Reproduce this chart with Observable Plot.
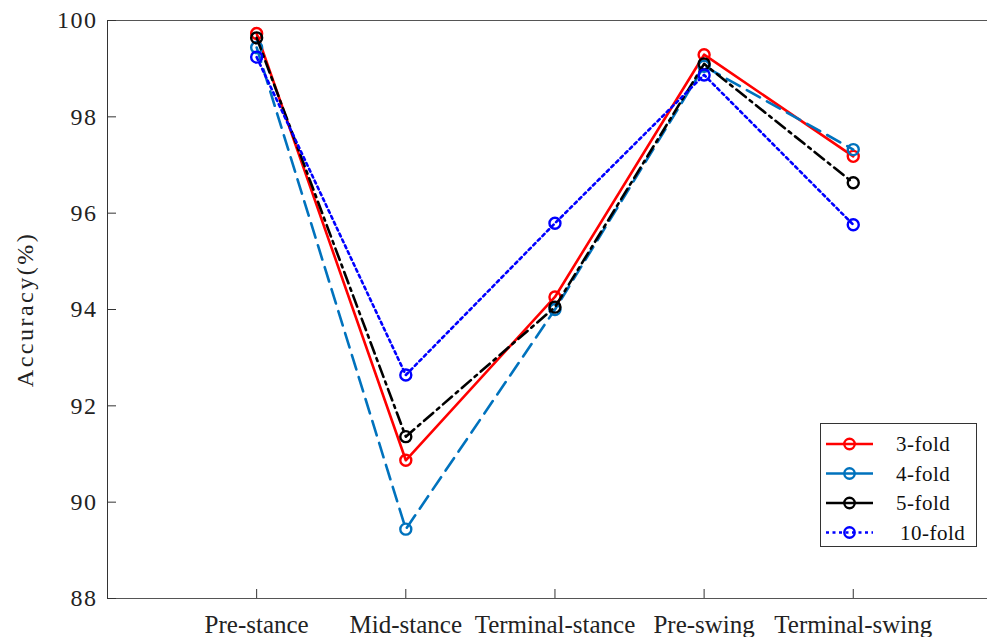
<!DOCTYPE html>
<html>
<head>
<meta charset="utf-8">
<script src="https://cdn.jsdelivr.net/npm/d3@7"></script>
<script src="https://cdn.jsdelivr.net/npm/@observablehq/plot@0.6"></script>
<style>
  html, body { margin: 0; padding: 0; background: #fff; overflow: hidden; }
  #wrap { position: relative; width: 987px; height: 637px; }
  #wrap svg text { font-family: "Liberation Serif", "Times New Roman", serif !important; }
  #legend {
    position: absolute; left: 820px; top: 423px; width: 157px; height: 124px;
    border: 1px solid #333; background: #fff; box-sizing: border-box;
  }
</style>
</head>
<body>
<div id="wrap"></div>
<script>
// Gait phases on the x axis
const phases = ["Pre-stance", "Mid-stance", "Terminal-stance", "Pre-swing", "Terminal-swing"];

// Accuracy (%) per phase for each cross-validation setting
const fold3  = [99.73, 90.87, 94.26, 99.29, 97.18];
const fold4  = [99.44, 89.44, 94.00, 99.05, 97.32];
const fold5  = [99.64, 91.36, 94.05, 99.10, 96.63];
const fold10 = [99.24, 92.64, 95.79, 98.87, 95.76];

const seriesNames = ["3-fold", "4-fold", "5-fold", "10-fold"];
const yTicks = [88, 90, 92, 94, 96, 98, 100];

// line styles for each series
const styles = [
  {values: fold3,  color: "#ff0000", dash: null},
  {values: fold4,  color: "#0072bd", dash: "15,8"},
  {values: fold5,  color: "#000000", dash: "12,5,3,5"},
  {values: fold10, color: "#0000ff", dash: "3,3.5"}
];

const series = styles.map((s, k) => ({
  name: seriesNames[k], color: s.color, dash: s.dash,
  rows: s.values.map((v, i) => ({i: i + 1, v, name: seriesNames[k]}))
}));

const marks = [
  Plot.ruleY([yTicks[0], yTicks[yTicks.length - 1]], {stroke: "#555", strokeWidth: 1}),
  Plot.ruleX([0], {stroke: "#333", strokeWidth: 1}),
  Plot.axisY({ticks: yTicks, tickSize: -9, tickPadding: 19, fontSize: 24, stroke: "#333",
    label: "Accuracy(%)", labelAnchor: "center", labelArrow: "none", labelOffset: 92}),
  Plot.axisX({ticks: phases.map((_, i) => i + 1), tickSize: -9, tickPadding: 26, fontSize: 25,
    stroke: "#333", tickFormat: d => phases[d - 1], label: null})
];
for (const s of series) {
  marks.push(Plot.line(s.rows, {x: "i", y: "v", stroke: s.color, strokeWidth: 2.6,
    strokeDasharray: s.dash, strokeLinejoin: "round"}));
  marks.push(Plot.dot(s.rows, {x: "i", y: "v", r: 5.5, stroke: s.color, strokeWidth: 2.4, fill: "none"}));
}

const chart = Plot.plot({
  width: 987, height: 637,
  marginLeft: 107, marginRight: 0, marginTop: 20, marginBottom: 39,
  style: {fontFamily: "Liberation Serif, serif", color: "#222", background: "#fff"},
  x: {domain: [0, 5.9]},
  y: {domain: [88, 100]},
  marks
});

// Tick and axis label spacing
d3.select(chart).selectAll('[aria-label="y-axis tick label"] text').attr("letter-spacing", "1.5px");
d3.select(chart).selectAll('[aria-label="y-axis label"] text').attr("letter-spacing", "2.5px").attr("font-size", 24);

const wrap = document.getElementById("wrap");
wrap.appendChild(chart);

// Legend box inside the plot area
const legend = document.createElement("div");
legend.id = "legend";
wrap.appendChild(legend);
const lsvg = d3.select(legend).append("svg").attr("width", 155).attr("height", 122);
series.forEach((s, k) => {
  const g = lsvg.append("g").attr("transform", `translate(0, ${20 + k * 29.5})`);
  g.append("line").attr("x1", 5).attr("x2", 52).attr("y1", 0).attr("y2", 0)
    .attr("stroke", s.color).attr("stroke-width", 2.6)
    .attr("stroke-dasharray", k === 3 ? s.dash : null);
  g.append("circle").attr("cx", 28.5).attr("cy", 0).attr("r", 5.2)
    .attr("fill", "none").attr("stroke", s.color).attr("stroke-width", 2.4);
  g.append("text").attr("x", k === 3 ? 79 : 75).attr("y", 0).attr("dy", "0.35em")
    .attr("font-size", 21).attr("letter-spacing", "0.5px").attr("fill", "#111").text(s.name);
});
</script>
</body>
</html>
